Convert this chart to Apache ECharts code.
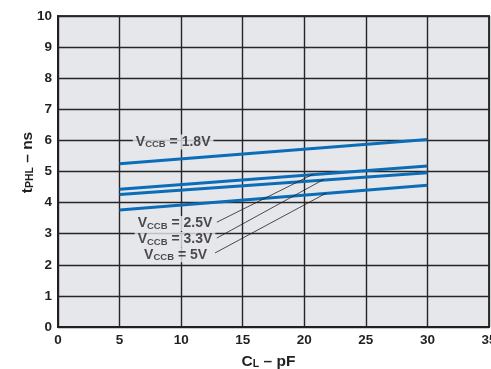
<!DOCTYPE html>
<html>
<head>
<meta charset="utf-8">
<style>
  html, body { margin: 0; padding: 0; background: #fff; }
  #chart { width: 491px; height: 369px; }
</style>
</head>
<body>
<div id="chart"></div>
<script src="https://cdn.jsdelivr.net/npm/echarts@6/dist/echarts.min.js"></script>
<script>
// load capacitance (pF) at the two ends of each curve
const capacitance = [5, 30]
// propagation delay tPHL (ns) per VCCB
const v18 = [5.25, 6.03]
const v25 = [4.43, 5.18]
const v33 = [4.26, 4.96]
const v50 = [3.76, 4.56]

// annotation text and where it sits (data coords)
const labelNames = ['1.8V', '2.5V', '3.3V', '5V']
const labelX = [9.35, 9.5, 9.5, 9.55]
const labelY = [5.95, 3.33, 2.81, 2.32]

// leader lines from the 2.5V / 3.3V / 5V labels to their curves
const leaderFrom = [[12.9, 3.37], [12.9, 2.86], [12.75, 2.38]]
const leaderTo = [[20.7, 4.91], [21.6, 4.75], [21.76, 4.30]]

const BLUE = '#0b6db7'
const INK = '#231f20'
const BG = '#e6e7eb'
const FONT = '"Liberation Sans", Arial, sans-serif'

const rich = {
  v: { fontFamily: FONT, fontWeight: 'bold', fontSize: 14, color: INK, lineHeight: 15 },
  s: { fontFamily: FONT, fontWeight: 'bold', fontSize: 9.5, color: INK, lineHeight: 15, verticalAlign: 'bottom' },
}
const titleRich = {
  v: { fontFamily: FONT, fontWeight: 'bold', fontSize: 15.5, color: INK, lineHeight: 17 },
  s: { fontFamily: FONT, fontWeight: 'bold', fontSize: 10.5, color: INK, lineHeight: 17, verticalAlign: 'bottom' },
}

const curve = (vals) => ({
  type: 'line',
  data: capacitance.map((c, i) => [c, vals[i]]),
  symbol: 'none',
  lineStyle: { color: BLUE, width: 3 },
  z: 3,
})

const chart = echarts.init(document.getElementById('chart'))

chart.setOption({
  animation: false,
  grid: {
    left: 58, right: 2, top: 16, bottom: 42,
    outerBoundsMode: 'none',
    containLabel: false,
    show: true, backgroundColor: BG, borderColor: '#3a3a3a', borderWidth: 2,
  },
  xAxis: {
    type: 'value', min: 0, max: 35, interval: 5,
    name: '{v|C}{s|L}{v| – pF}',
    nameLocation: 'middle', nameGap: 26, nameMoveOverlap: false,
    nameTextStyle: { rich: titleRich, padding: [0, 10, 0, 0] },
    axisLine: { show: true, lineStyle: { color: INK, width: 2 } },
    axisTick: { show: false },
    axisLabel: { margin: 6, fontFamily: FONT, fontWeight: 'bold', fontSize: 13.5, color: INK },
    splitLine: { lineStyle: { color: '#262626', width: 1.4 } },
  },
  yAxis: {
    type: 'value', min: 0, max: 10, interval: 1,
    name: '{v|t}{s|PHL}{v| – ns}',
    nameLocation: 'middle', nameGap: 22, nameRotate: 90, nameMoveOverlap: false,
    nameTextStyle: { rich: titleRich, padding: [0, 0, 0, 18] },
    axisLine: { show: true, lineStyle: { color: INK, width: 2 } },
    axisTick: { show: false },
    axisLabel: { margin: 6, fontFamily: FONT, fontWeight: 'bold', fontSize: 13.5, color: INK },
    splitLine: { lineStyle: { color: '#262626', width: 1.4 } },
  },
  series: [
    curve(v18),
    curve(v25),
    curve(v33),
    curve(v50),
    ...leaderFrom.map((p, i) => ({
      type: 'line',
      data: [p, leaderTo[i]],
      symbol: 'none',
      lineStyle: { color: INK, width: 0.8 },
      z: 4,
    })),
    {
      type: 'scatter',
      symbolSize: 1,
      itemStyle: { color: 'rgba(0,0,0,0)' },
      data: labelNames.map((n, i) => ({ value: [labelX[i], labelY[i]], name: n })),
      label: {
        show: true,
        position: 'inside',
        backgroundColor: BG,
        padding: [0, 3],
        formatter: (p) => `{v|V}{s|CCB}{v| = ${p.name}}`,
        rich,
      },
      z: 5,
    },
  ],
})
</script>
</body>
</html>
